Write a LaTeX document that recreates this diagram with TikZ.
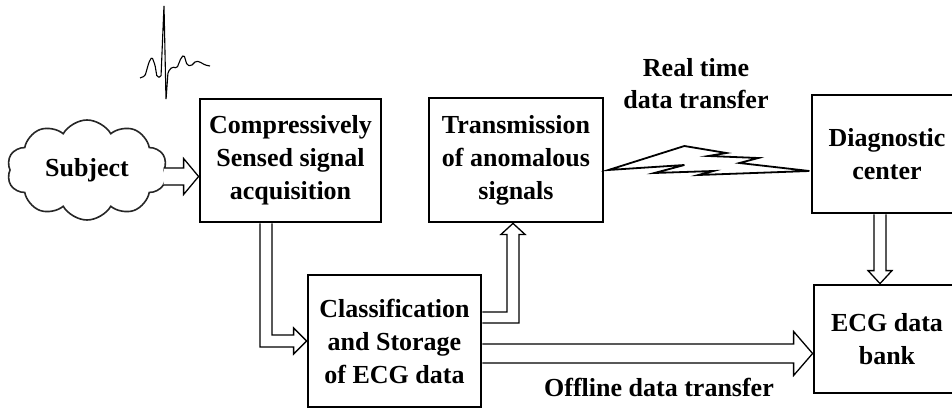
\documentclass[tikz,border=0pt]{standalone}
\usepackage{fontspec}
\setmainfont{Liberation Serif}
\usetikzlibrary{
  calc,
  shapes.symbols
}
\tikzset{
  blockbox/.style={draw,line width=2.8pt,align=center,inner sep=2pt,font=\fontsize{26}{33}\selectfont\bfseries},
  cloudnode/.style={draw=black!85,cloud,cloud puffs=10,cloud puff arc=120,aspect=1.6,minimum width=160pt,minimum height=100pt,line width=1.6pt,font=\fontsize{26}{33}\selectfont\bfseries},
  note/.style={align=center,font=\fontsize{26}{32}\selectfont\bfseries},
  hollow/.style={draw,fill=white,line width=1.3pt,line join=miter},
  bolt/.style={draw,fill=white,line width=1.8pt,line join=miter},
  wave/.style={draw,line width=1.1pt,rounded corners=1.5pt}
}
\begin{document}
\begin{tikzpicture}[x=1pt,y=1pt]
\clip (0,0) rectangle (952,410);

% blocks
\node[cloudnode] (subj) at (87,240) {Subject};
\node[blockbox,minimum width=181pt,minimum height=123pt] (comp) at (290.5,249.5) {Compressively\\Sensed signal\\acquisition};
\node[blockbox,minimum width=174pt,minimum height=124pt] (trans) at (516,250) {Transmission\\of anomalous\\signals};
\node[blockbox,minimum width=173pt,minimum height=132pt] (cls) at (394.5,69) {Classification\\and Storage\\of ECG data};
\node[blockbox,minimum width=150pt,minimum height=118pt] (diag) at (887,256) {Diagnostic\\center};
\node[blockbox,minimum width=146pt,minimum height=108pt] (bank) at (887,71) {ECG data\\bank};

% labels
\node[note] (rt) at (696,326) {Real time\\data transfer};
\node[note] (off) at (659,23) {Offline data transfer};

% ecg trace
\draw[wave] (140,332) -- (145,334) -- (149,348) -- (152,353) -- (155,345) -- (157,333) -- (161,333)
  -- (164,405) -- (166,310) -- (168,338) -- (172,343) -- (177,342) -- (181,352) -- (184,355)
  -- (187,345) -- (191,344) -- (196,349) -- (200,348) -- (205,345) -- (210,344);

% subject -> acquisition
\coordinate (t1) at ($(comp.west)+(0,-16)$);
\draw[hollow] ($(t1)+(-35,8.5)$) -- ($(t1)+(-15,8.5)$) -- ($(t1)+(-15,18)$) -- (t1)
  -- ($(t1)+(-15,-18)$) -- ($(t1)+(-15,-8.5)$) -- ($(t1)+(-35,-8.5)$);

% acquisition -> classification
\coordinate (s2) at ($(comp.south)+(-24.5,0)$);
\coordinate (t2) at (cls.west);
\draw[hollow] ($(s2)+(-6,0)$) -- ($(s2 |- t2)+(-6,-6)$) -- ($(t2)+(-13,-6)$) -- ($(t2)+(-13,-13)$) -- (t2)
  -- ($(t2)+(-13,13)$) -- ($(t2)+(-13,6)$) -- ($(s2 |- t2)+(6,6)$) -- ($(s2)+(6,0)$);

% classification -> transmission
\coordinate (s3) at ($(cls.east)+(0,23.5)$);
\coordinate (t3) at ($(trans.south)+(-3,0)$);
\draw[hollow] ($(s3)+(0,5.5)$) -- ($(t3 |- s3)+(-6,5.5)$) -- ($(t3)+(-6,-11)$) -- ($(t3)+(-12,-11)$) -- (t3)
  -- ($(t3)+(12,-11)$) -- ($(t3)+(6,-11)$) -- ($(t3 |- s3)+(6,-5.5)$) -- ($(s3)+(0,-5.5)$);

% classification -> data bank
\coordinate (s4) at ($(cls.east)+(0,-12.5)$);
\coordinate (t4) at (bank.west |- s4);
\draw[hollow] ($(s4)+(0,9.5)$) -- ($(t4)+(-19,9.5)$) -- ($(t4)+(-19,22)$) -- (t4)
  -- ($(t4)+(-19,-22)$) -- ($(t4)+(-19,-9.5)$) -- ($(s4)+(0,-9.5)$);

% diagnostic -> data bank
\coordinate (s5) at ($(diag.south)+(-7,0)$);
\coordinate (t5) at (s5 |- bank.north);
\draw[hollow] ($(s5)+(-6,0)$) -- ($(t5)+(-6,13)$) -- ($(t5)+(-12,13)$) -- (t5)
  -- ($(t5)+(12,13)$) -- ($(t5)+(6,13)$) -- ($(s5)+(6,0)$);

% wireless link
\begin{scope}[shift={(trans.east)}]
\draw[bolt] (4,-10) -- (80,14) -- (122,7) -- (104,4) -- (154,2) -- (135,-3) -- (205,-11)
  -- (94,-15) -- (109,-11) -- (50,-13) -- (80,-5) -- cycle;
\end{scope}
\end{tikzpicture}
\end{document}
